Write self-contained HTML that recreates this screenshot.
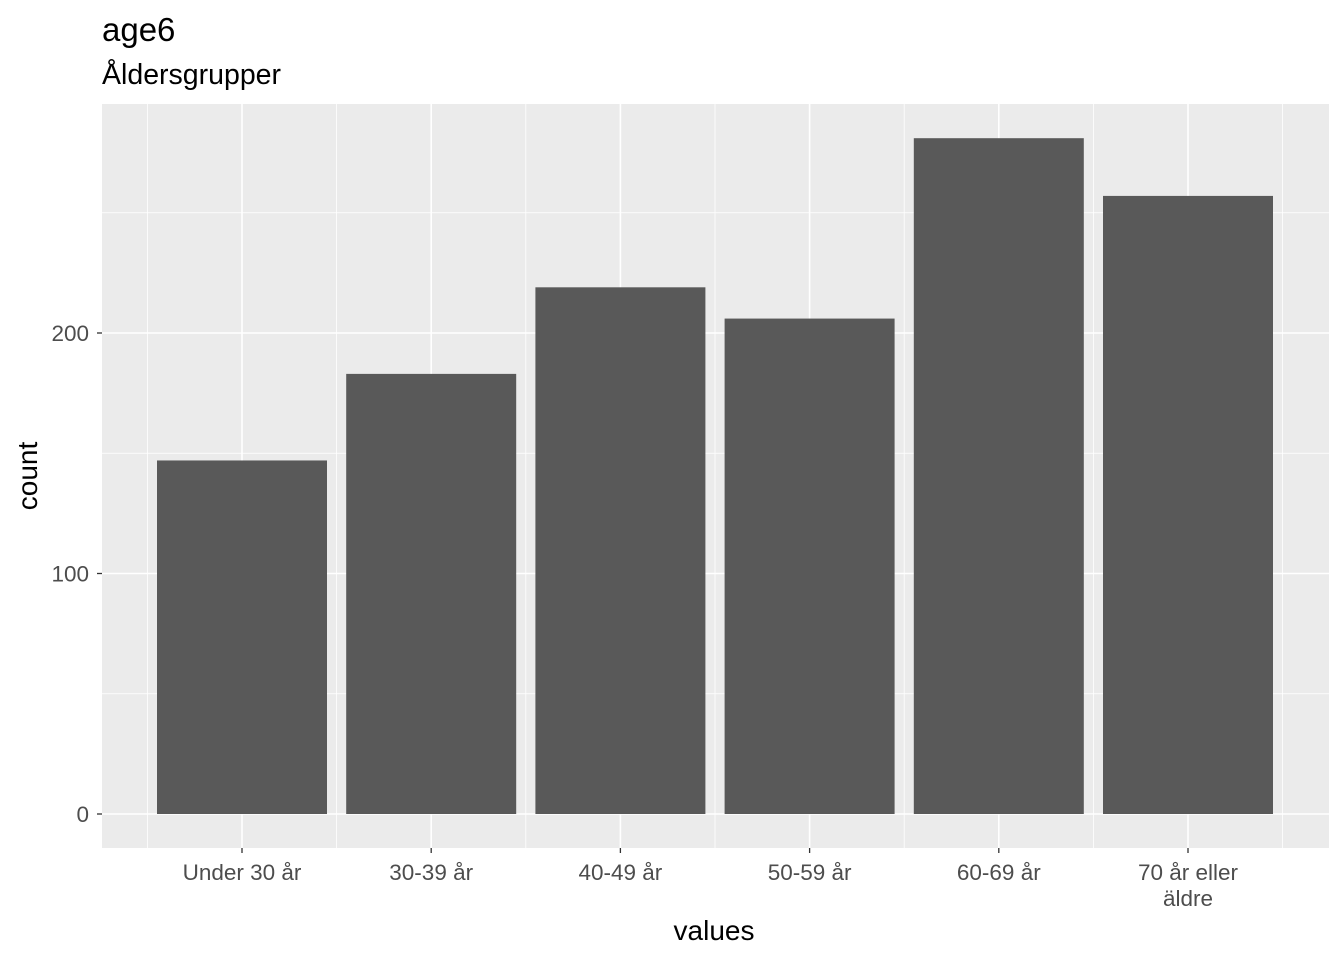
<!DOCTYPE html>
<html><head><meta charset="utf-8"><style>
body{margin:0;background:#fff;}
svg{display:block;font-family:"Liberation Sans",sans-serif;}
</style></head><body>
<svg id="chart" width="1344" height="960" xmlns="http://www.w3.org/2000/svg">
<rect x="0" y="0" width="1344" height="960" fill="#fff"/>
<text x="102" y="41" style="font-size:33px" fill="#000">age6</text>
<text x="102" y="84" style="font-size:28.5px" fill="#000">Åldersgrupper</text>
<rect x="102" y="104" width="1227" height="744" fill="#ebebeb"/>
<g id="grid"></g>
<g id="bars"></g>
<g id="axes"></g>
<text x="714" y="940" style="font-size:28px" text-anchor="middle" fill="#000">values</text>
<text transform="translate(37,476) rotate(-90)" style="font-size:28px" text-anchor="middle" fill="#000">count</text>
</svg>
<script>
const categories = ["Under 30 år","30-39 år","40-49 år","50-59 år","60-69 år","70 år eller\näldre"];
const counts = [147, 183, 219, 206, 281, 257];
const yTicks = [0, 100, 200];
const yMinor = [50, 150, 250];

const NS = "http://www.w3.org/2000/svg";
const panelL = 102, panelR = 1329, panelT = 104, panelB = 848;
const y0px = 814, pxPerUnit = 2.405;
const yScale = v => y0px - v * pxPerUnit;
const step = 189.2, firstC = 242;
const xScale = i => firstC + i * step;
const barW = 170;

function mk(tag, attrs, parent){ const e=document.createElementNS(NS,tag); for(const k in attrs) e.setAttribute(k,attrs[k]); parent.appendChild(e); return e; }
const grid=document.getElementById('grid'), bars=document.getElementById('bars'), axes=document.getElementById('axes');

yMinor.forEach(v=>{
  const l=mk('line',{x1:panelL,x2:panelR,y1:yScale(v),y2:yScale(v),stroke:'#fff','stroke-width':0.8},grid);
  
  
});
for(let i=0;i<=categories.length;i++){
  const x=xScale(i)-step/2;
  const l=mk('line',{x1:x,x2:x,y1:panelT,y2:panelB,stroke:'#fff','stroke-width':0.8},grid);
  
  
}
yTicks.forEach(v=>{
  const y=yScale(v);
  const l=mk('line',{x1:panelL,x2:panelR,y1:y,y2:y,stroke:'#fff','stroke-width':1.6},grid);
  
  
  const t=mk('line',{x1:panelL-5,x2:panelL,y1:y,y2:y,stroke:'#333','stroke-width':1.3},axes);
  
  
  const tx=mk('text',{x:panelL-13,y:y+8,style:'font-size:22.5px','text-anchor':'end',fill:'#4d4d4d'},axes);
  tx.textContent=v;
  
  
});
categories.forEach((c,i)=>{
  const x=xScale(i);
  const l=mk('line',{x1:x,x2:x,y1:panelT,y2:panelB,stroke:'#fff','stroke-width':1.6},grid);
  
  
  const r=mk('rect',{x:x-barW/2,y:yScale(counts[i]),width:barW,height:yScale(0)-yScale(counts[i]),fill:'#595959'},bars);
  
  
  const t=mk('line',{x1:x,x2:x,y1:panelB,y2:panelB+5,stroke:'#333','stroke-width':1.3},axes);
  
  
  c.split('\n').forEach((ln,j)=>{
    const tx=mk('text',{x:x,y:880+j*26,style:'font-size:22.5px','text-anchor':'middle',fill:'#4d4d4d'},axes);
    tx.textContent=ln;
    
    
  });
});
</script>
</body></html>
